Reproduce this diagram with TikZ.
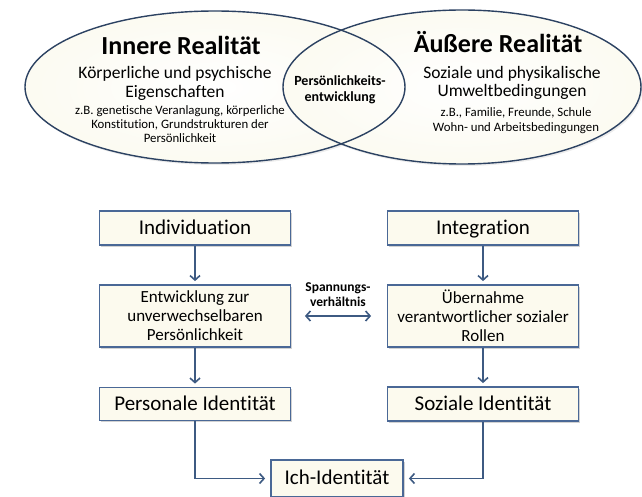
\documentclass[tikz,border=0pt]{standalone}
\usepackage{fontspec}
\setmainfont{Carlito}[Ligatures=NoCommon]
\usetikzlibrary{arrows.meta,shadows,shapes.geometric}
\definecolor{navy}{HTML}{2C4262}
\definecolor{steel}{HTML}{4A6896}
\definecolor{arrowc}{HTML}{3D5A82}
\definecolor{cream}{HTML}{FCFAEE}
\pgfdeclareradialshading{ellshade}{\pgfpoint{0bp}{0bp}}{rgb(0bp)=(1,1,1); rgb(28bp)=(0.985,0.98,0.94); rgb(44bp)=(0.96,0.955,0.905); rgb(49bp)=(0.88,0.88,0.85); rgb(50bp)=(0.85,0.85,0.82)}
\begin{document}
\begin{tikzpicture}[x=1pt,y=-1pt,
  box/.style={draw=steel, line width=1.8pt, fill=cream, inner sep=0pt, align=center,
    drop shadow={shadow xshift=1.5pt, shadow yshift=-1.5pt, fill=black!35}},
  ell/.style={ellipse, inner sep=0pt, shading=ellshade,
    drop shadow={shadow xshift=1.5pt, shadow yshift=-2pt, fill=black!15}},
  outline/.style={draw=navy, line width=1.4pt},
  tip/.tip={Straight Barb[length=4.5pt,width=10pt,line width=1.6pt]},
  arr/.style={draw=arrowc, line width=1.8pt, -tip},
  big/.style={font=\fontsize{26}{30}\selectfont\bfseries},
  mid/.style={font=\fontsize{17.5}{18.5}\selectfont, align=center},
  small/.style={font=\fontsize{12.8}{13.8}\selectfont, align=center},
  boxfont/.style={font=\fontsize{21}{24}\selectfont, text height=16pt, text depth=3.5pt},
  boxfont2/.style={font=\fontsize{17}{19}\selectfont}]
\useasboundingbox (0,0) rectangle (642,497);

% ellipses
\node[ell, minimum width=380pt, minimum height=152pt] (innerE) at (215,87) {};
\node[ell, minimum width=358pt, minimum height=154pt] (outerE) at (462,87) {};
\draw[outline] (215,87) ellipse [x radius=190, y radius=76];
\draw[outline] (462,87) ellipse [x radius=179, y radius=77];

% texts in ellipses
\node[big] (innerT) at (181,45) {Innere Realität};
\node[mid] (innerB) at (175,83.5) {Körperliche und psychische\\Eigenschaften};
\node[small] (innerS) at (180,124) {z.B. genetische Veranlagung, körperliche\\Konstitution, Grundstrukturen der\\Persönlichkeit};
\node[big] (outerT) at (498,42) {Äußere Realität};
\node[mid] (outerB) at (512,83) {Soziale und physikalische\\Umweltbedingungen};
\node[small, font=\fontsize{12.8}{15}\selectfont] (outerS) at (516,121) {z.B., Familie, Freunde, Schule\\Wohn- und Arbeitsbedingungen};
\node[font=\fontsize{14}{16}\selectfont\bfseries, align=center] (lens) at (340,90) {Persönlichkeits-\\entwicklung};

% boxes
\node[box, boxfont, minimum width=191pt, minimum height=34pt] (indiv) at (195,228) {Individuation};
\node[box, boxfont, minimum width=191pt, minimum height=34pt] (integ) at (483,228) {Integration};
\node[box, boxfont2, minimum width=191pt, minimum height=62pt] (entw) at (195,316) {Entwicklung zur\\unverwechselbaren\\Persönlichkeit};
\node[box, boxfont2, minimum width=191pt, minimum height=62pt] (uebern) at (483,316) {Übernahme\\verantwortlicher sozialer\\Rollen};
\node[box, boxfont, minimum width=191pt, minimum height=33pt] (perso) at (195,404) {Personale Identität};
\node[box, boxfont, minimum width=191pt, minimum height=34pt] (sozi) at (483,404) {Soziale Identität};
\node[box, boxfont, minimum width=132pt, minimum height=37pt] (ich) at (337,478.5) {Ich-Identität};

\node[font=\fontsize{13.5}{15}\selectfont\bfseries, align=center] (spann) at (338,294.5) {Spannungs-\\verhältnis};

% connectors
\draw[arr, shorten >=3pt] (indiv) -- (entw);
\draw[arr, shorten >=3pt] (integ) -- (uebern);
\draw[arr, shorten >=3pt] (entw) -- (perso);
\draw[arr, shorten >=3pt] (uebern) -- (sozi);
\draw[arr, tip-tip, shorten <=13.5pt, shorten >=15.5pt] (entw.east) -- (uebern.west);
\draw[arr, shorten >=5pt] (perso.south) |- (ich.west);
\draw[arr, shorten >=5pt] (sozi.south) |- (ich.east);
\end{tikzpicture}
\end{document}
